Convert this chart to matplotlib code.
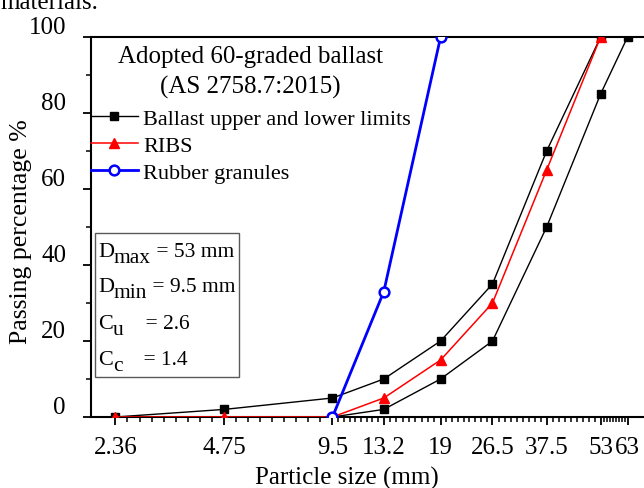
import numpy as np
import matplotlib
matplotlib.use("Agg")
import matplotlib.pyplot as plt
import matplotlib.transforms as mtransforms
import matplotlib.patches as mpatches
from matplotlib.ticker import FixedLocator, NullFormatter

plt.rcParams['font.family'] = ['Liberation Serif', 'DejaVu Serif']

""" Data read off the figure """
sieve_ticks = [2.36, 4.75, 9.5, 13.2, 19, 26.5, 37.5, 53, 63]
tick_labels = ['2.36', '4.75', '9.5', '13.2', '19', '26.5', '37.5', '53', '63']

upper_size = [2.36, 4.75, 9.5, 13.2, 19, 26.5, 37.5, 53]
upper_pass = [0, 2, 5, 10, 20, 35, 70, 100]

lower_size = [9.5, 13.2, 19, 26.5, 37.5, 53, 63]
lower_pass = [0, 2, 10, 20, 50, 85, 100]

ribs_size = [2.36, 4.75, 9.5, 13.2, 19, 26.5, 37.5, 53]
ribs_pass = [0, 0, 0, 5, 15, 30, 65, 100]

rubber_size = [9.5, 13.2, 19]
rubber_pass = [0, 33, 100]

# gradation parameters shown in the box: (symbol, subscript, rest)
box_rows = [('D', 'max', ' = 53 mm'),
            ('D', 'min', ' = 9.5 mm'),
            ('C', 'u', '    = 2.6'),
            ('C', 'c', '    = 1.4')]

fig = plt.figure(figsize=(6.44, 4.89), dpi=100)
ax = fig.add_axes([91/644, 71/489, 1 - 91/644, (418-38)/489])

def px(x, y):  # pixel position in the picture -> axes fraction
    return (x - 91) / 553., (418 - y) / 380.

ax.plot(upper_size, upper_pass, color='black', lw=1.0, marker='s', ms=5.5,
        label='Ballast upper and lower limits', zorder=3)
ax.plot(lower_size, lower_pass, color='black', lw=1.0, marker='s', ms=5.5, zorder=3)
ax.plot(ribs_size, ribs_pass, color='red', lw=1.1, marker='^', ms=7.5,
        label='RIBS', zorder=4)
ax.plot(rubber_size, rubber_pass, color='blue', lw=2.0, marker='o', ms=7,
        mfc='white', mec='blue', mew=1.8, label='Rubber granules', zorder=5)

ax.set_xscale('log')
ax.set_xlim(2.02, 70)
ax.set_ylim(0, 100)

### x ticks: sieve sizes, 8 minor ticks between each pair
ax.xaxis.set_major_locator(FixedLocator(sieve_ticks))
ax.set_xticklabels(tick_labels)
minors = []
for a, b in zip(sieve_ticks[:-1], sieve_ticks[1:]):
    minors += list(np.logspace(np.log10(a), np.log10(b), 10)[1:-1])
ax.xaxis.set_minor_locator(FixedLocator(minors))
ax.xaxis.set_minor_formatter(NullFormatter())

ax.set_yticks([0, 20, 40, 60, 80, 100])
ax.set_yticks([10, 30, 50, 70, 90], minor=True)

ax.tick_params(which='major', direction='out', length=6, width=1.3, labelsize=18)
ax.tick_params(which='minor', direction='out', length=3.5, width=1.1)
ax.tick_params(axis='x', pad=8)
ax.tick_params(axis='y', pad=12)

# y labels sit a bit above their ticks in the original
off = mtransforms.ScaledTranslation(0, 12/100., fig.dpi_scale_trans)
for lab in ax.get_yticklabels():
    lab.set_transform(lab.get_transform() + off)

for sp in ['left', 'bottom', 'top']:
    ax.spines[sp].set_linewidth(1.5)
ax.spines['right'].set_visible(False)

ax.set_xlabel('Particle size (mm)', fontsize=18)
ax.xaxis.set_label_coords(0.463, -0.13)
ax.set_ylabel('Passing percentage %', fontsize=18.5)
ax.yaxis.set_label_coords(-0.106, 0.49)

### legend title drawn as two centred lines
tx, ty = px(250, 57)
ax.text(tx, ty, 'Adopted 60-graded ballast', transform=ax.transAxes,
        fontsize=18, ha='center', va='center')
tx, ty = px(250, 87)
ax.text(tx, ty, '(AS 2758.7:2015)', transform=ax.transAxes,
        fontsize=18, ha='center', va='center')

leg = ax.legend(loc='upper left', bbox_to_anchor=(0.0, 0.813), frameon=False,
                fontsize=16, handlelength=2.1, handletextpad=0.25,
                borderpad=0, borderaxespad=0, labelspacing=0.3)

### parameter box
bx0, by0 = px(95, 378)
bx1, by1 = px(239, 234)
ax.add_patch(mpatches.Rectangle((bx0, by0), bx1 - bx0, by1 - by0, transform=ax.transAxes,
                                fc='white', ec='#5a5a5a', lw=1.0, zorder=6))
baselines = [257, 292, 329, 365]
for (sym, sub, rest), yb in zip(box_rows, baselines):
    x0, y0 = px(98, yb)
    t1 = ax.text(x0, y0, sym, transform=ax.transAxes, fontsize=16,
                 va='baseline', ha='left', zorder=7)
    t2 = ax.annotate(sub, xy=(1, 0), xycoords=t1, xytext=(0, -6),
                     textcoords='offset pixels', fontsize=15.5,
                     va='bottom', ha='left', zorder=7)
    ax.annotate(rest, xy=(1, 0), xycoords=t2, xytext=(0, 6),
                textcoords='offset pixels', fontsize=15.5,
                va='bottom', ha='left', zorder=7)

# leftover caption from the page above
fig.text(0.0, 1 - 9/489, 'materials.', fontsize=18, ha='left', va='baseline')

fig.savefig('out.png', dpi=100)
